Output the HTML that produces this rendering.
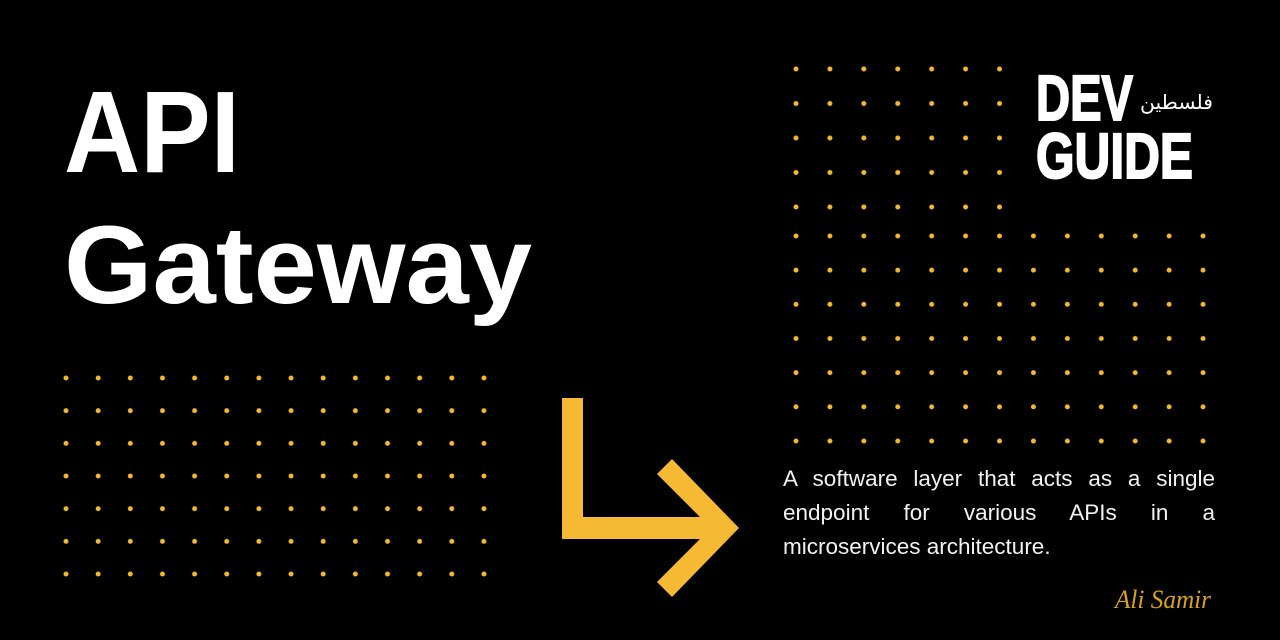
<!DOCTYPE html>
<html><head><meta charset="utf-8">
<style>
html,body{margin:0;padding:0;background:#000;}
#c{position:relative;width:1280px;height:640px;background:#000;overflow:hidden;}
.desc{position:absolute;left:783px;top:462px;width:432px;color:#f2f2f2;font-family:"Liberation Sans",sans-serif;font-size:22.5px;line-height:34px;text-align:justify;text-align-last:left;}
</style></head><body>
<div id="c">
<svg width="1280" height="640" style="position:absolute;left:0;top:0">
<defs>
<pattern id="pl" x="49.92" y="361.67" width="32.15" height="32.67" patternUnits="userSpaceOnUse"><circle cx="16.08" cy="16.33" r="2.5" fill="#f6b82c"/></pattern>
<pattern id="pr" x="779.04" y="218.9" width="33.92" height="34.17" patternUnits="userSpaceOnUse"><circle cx="16.96" cy="17.08" r="2.5" fill="#f6b82c"/></pattern>
<pattern id="pt" x="779.04" y="51.75" width="33.92" height="34.5" patternUnits="userSpaceOnUse"><circle cx="16.96" cy="17.25" r="2.5" fill="#f6b82c"/></pattern>
</defs>
<rect x="49.92" y="361.67" width="450" height="228" fill="url(#pl)"/>
<rect x="779.04" y="218.9" width="440.9" height="239.2" fill="url(#pr)"/>
<rect x="779.04" y="51.75" width="237.4" height="172.5" fill="url(#pt)"/>
<text x="64" y="172" fill="#fff" font-family="Liberation Sans, sans-serif" font-weight="bold" font-size="116" textLength="176" lengthAdjust="spacingAndGlyphs">API</text>
<text x="64" y="303" fill="#fff" font-family="Liberation Sans, sans-serif" font-weight="bold" font-size="110" textLength="468" lengthAdjust="spacingAndGlyphs">Gateway</text>
<polygon points="562,398 583,398 583,517 714,517 714,539 562,539" fill="#f6b934"/>
<polygon points="672,459 739,528 672,597 657,582 711,528 657,474" fill="#f6b934"/>
<text x="1036" y="120" fill="#fff" font-family="Liberation Sans, sans-serif" font-weight="bold" font-size="64" textLength="97" lengthAdjust="spacingAndGlyphs" stroke="#fff" stroke-width="2">DEV</text>
<text x="1036" y="178" fill="#fff" font-family="Liberation Sans, sans-serif" font-weight="bold" font-size="64" textLength="157" lengthAdjust="spacingAndGlyphs" stroke="#fff" stroke-width="2">GUIDE</text>
<text x="1140" y="109" fill="#fff" font-family="DejaVu Sans, sans-serif" font-size="20" textLength="73" lengthAdjust="spacingAndGlyphs">فلسطين</text>
<text x="1115" y="608" fill="#d9a21e" font-family="Liberation Serif, serif" font-style="italic" font-size="26" textLength="96" lengthAdjust="spacingAndGlyphs">Ali Samir</text>
</svg>
<div class="desc">A software layer that acts as a single endpoint for various APIs in a microservices architecture.</div>
</div>
</body></html>
